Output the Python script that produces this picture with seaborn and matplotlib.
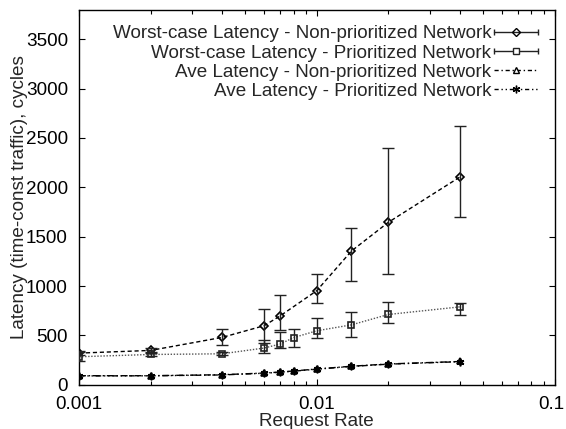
import matplotlib
matplotlib.use("Agg")
import matplotlib.pyplot as plt
import matplotlib.transforms as mtransforms
import seaborn as sns
import numpy as np
from matplotlib.lines import Line2D
from matplotlib.legend_handler import HandlerLine2D

# ---------------- data ----------------
rate_np = [0.001, 0.002, 0.004, 0.006, 0.007, 0.01, 0.014, 0.02, 0.04]
worst_np = [321, 348, 480, 598, 696, 953, 1355, 1645, 2104]
worst_np_lo = [300, 328, 402, 426, 554, 828, 1052, 1119, 1698]
worst_np_hi = [345, 375, 564, 770, 912, 1125, 1587, 2399, 2624]

rate_p = [0.001, 0.002, 0.004, 0.006, 0.007, 0.008, 0.01, 0.014, 0.02, 0.04]
worst_p = [284, 307, 314, 372, 412, 478, 547, 607, 712, 789]
worst_p_lo = [240, 292, 300, 324, 368, 385, 476, 480, 621, 705]
worst_p_hi = [331, 322, 328, 456, 534, 568, 679, 738, 843, 829]

rate_ave = [0.001, 0.002, 0.004, 0.006, 0.007, 0.008, 0.01, 0.014, 0.02, 0.04]
ave_np = [92, 92, 102, 119, 129, 140, 160, 188, 211, 236]
ave_p = [90, 91, 100, 117, 127, 138, 158, 186, 209, 234]

labels = ["Worst-case Latency - Non-prioritized Network",
          "Worst-case Latency - Prioritized Network",
          "Ave Latency - Non-prioritized Network",
          "Ave Latency - Prioritized Network"]
xticks = [0.001, 0.01, 0.1]
xticklabels = ["0.001", "0.01", "0.1"]
yticks = [0, 500, 1000, 1500, 2000, 2500, 3000, 3500]

# ---------------- style ----------------
sns.set_style("ticks")
plt.rcParams['font.family'] = ['Liberation Sans', 'DejaVu Sans']
FS = 13.6

fig = plt.figure(figsize=(5.66, 4.29), dpi=100)
ax = fig.add_axes([79 / 566, (429 - 384.8) / 429, (554.5 - 79) / 566, (384.8 - 9.5) / 429])

ax.set_xscale("log")
K = "black"
eb_kw = dict(fmt="none", ecolor="#222222", elinewidth=1.0, capsize=4, capthick=1.0, zorder=3)

# error bars
ax.errorbar(rate_np, worst_np,
            yerr=[np.array(worst_np) - np.array(worst_np_lo), np.array(worst_np_hi) - np.array(worst_np)],
            **eb_kw)
ax.errorbar(rate_p, worst_p,
            yerr=[np.array(worst_p) - np.array(worst_p_lo), np.array(worst_p_hi) - np.array(worst_p)],
            **eb_kw)

# lines
sns.lineplot(x=rate_np, y=worst_np, ax=ax, color=K, lw=1.0,
             linestyle=(0, (3, 2)), marker="D", markersize=4,
             fillstyle="none", markeredgecolor=K, markeredgewidth=1.2)
sns.lineplot(x=rate_p, y=worst_p, ax=ax, color="#555555", lw=1.0,
             linestyle=(0, (1, 1.2)), marker="s", markersize=4.6,
             fillstyle="none", markeredgecolor="#222222", markeredgewidth=1.2)
sns.lineplot(x=rate_ave, y=ave_np, ax=ax, color=K, lw=1.0,
             linestyle=(0, (5, 2, 1, 2)), marker="^", markersize=4.5,
             fillstyle="none", markeredgecolor=K, markeredgewidth=1.2)
sns.lineplot(x=rate_ave, y=ave_p, ax=ax, color=K, lw=1.0,
             linestyle=(0, (4, 2, 1, 2, 1, 2)), marker=(6, 2, 0), markersize=5.5,
             markeredgecolor=K, markeredgewidth=1.2)

ax.set_xlim(0.001, 0.1)
ax.set_ylim(0, 3800)
ax.set_xticks(xticks)
ax.set_xticklabels(xticklabels)
ax.set_yticks(yticks)
ax.tick_params(axis="both", which="both", direction="in", top=True, right=True,
               labelsize=FS, colors=K)
ax.tick_params(which="major", length=4.5, width=0.8)
ax.tick_params(which="minor", length=2.8, width=0.8)
ax.tick_params(axis="y", pad=8)
ax.tick_params(axis="x", pad=8)
for s in ax.spines.values():
    s.set_linewidth(1.0)
    s.set_color(K)

# keep the last x tick label inside the canvas
last = ax.get_xticklabels()[-1]
last.set_transform(last.get_transform() +
                   mtransforms.ScaledTranslation(-2.0 / 72, 0, fig.dpi_scale_trans))

ax.set_xlabel("Request Rate", fontsize=FS)
ax.set_ylabel("Latency (time-const traffic), cycles", fontsize=FS)
ax.xaxis.set_label_coords(0.5, -0.076)
ax.yaxis.set_label_coords(-0.107, 0.5)
ax.xaxis.label.set_va("top")

# legend (gnuplot-like samples)
cap1 = Line2D([], [], color="#222222", lw=1.0, marker="|", markersize=4.5, markeredgewidth=1.0)
mk1 = Line2D([], [], ls="none", marker="D", markersize=4, fillstyle="none",
             markeredgecolor=K, markeredgewidth=1.0)
cap2 = Line2D([], [], color="#222222", lw=1.0, marker="|", markersize=4.5, markeredgewidth=1.0)
mk2 = Line2D([], [], ls="none", marker="s", markersize=4.6, markerfacecolor="white",
             markeredgecolor="#222222", markeredgewidth=1.0)
h3 = Line2D([], [], color=K, lw=1.0, linestyle=(0, (3, 2, 1, 2)), marker="^", markersize=4.5,
            markerfacecolor="white", markeredgecolor=K)
h4 = Line2D([], [], color=K, lw=1.0, linestyle=(0, (3, 2, 1, 2, 1, 2)), marker=(6, 2, 0),
            markersize=5.5, markeredgecolor=K)
hm = {cap1: HandlerLine2D(numpoints=2, marker_pad=0), cap2: HandlerLine2D(numpoints=2, marker_pad=0),
      mk1: HandlerLine2D(numpoints=1), mk2: HandlerLine2D(numpoints=1)}
leg = ax.legend([(cap1, mk1), (cap2, mk2), h3, h4], labels, handler_map=hm,
                loc="upper right", bbox_to_anchor=(0.966, 0.958), frameon=False,
                markerfirst=False, fontsize=FS, handlelength=2.33, handletextpad=0.15,
                labelspacing=0.1, borderpad=0.0, borderaxespad=0.0)

fig.savefig("out.png", dpi=100)
